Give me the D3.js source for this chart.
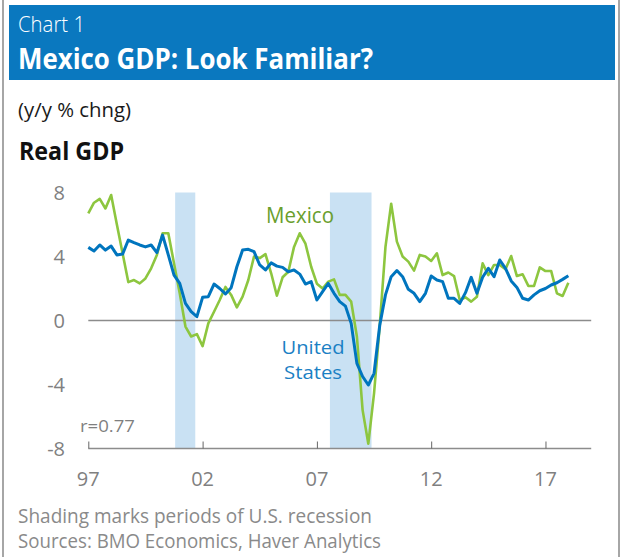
<!DOCTYPE html>
<html>
<head>
<meta charset="utf-8">
<script src="https://cdn.jsdelivr.net/npm/d3@7"></script>
<style>
  body { margin: 0; background: #fff; }
  text { font-family: "Open Sans", "Noto Sans", sans-serif; }
</style>
</head>
<body>
<svg id="viz"></svg>
<script>
var width = 623;
var height = 557;

// quarterly y/y % change, 1997Q1 .. 2018Q1
var startYear = 1997;
var mexico = [6.7, 7.36, 7.6, 7.0, 7.84, 6.0, 4.2, 2.4, 2.53, 2.32, 2.63, 3.26, 4.1, 5.45, 5.45, 3.57,
	1.7, -0.38, -1.0, -0.85, -1.6, -0.18, 0.55, 1.28, 2.1, 1.6, 0.82, 1.49, 2.53, 4.0, 3.9, 4.15,
	2.95, 1.55, 2.7, 3.05, 4.6, 5.45, 4.8, 3.36, 2.3, 2.0, 2.43, 2.57, 1.6, 1.6, 1.18, -1.0,
	-5.6, -7.7, -4.55, -0.3, 4.6, 7.3, 4.93, 4.0, 3.68, 3.12, 4.1, 4.0, 3.72, 4.2, 2.84, 3.0,
	2.78, 1.28, 1.45, 1.18, 1.49, 3.57, 2.84, 3.47, 3.47, 3.2, 4.03, 2.78, 2.89, 2.16, 2.16, 3.32,
	3.09, 3.09, 1.7, 1.53, 2.36];
var unitedStates = [4.57, 4.34, 4.72, 4.4, 4.65, 4.1, 4.15, 5.03, 4.87, 4.72, 4.6, 4.72, 4.24, 5.34, 4.1, 2.84,
	2.32, 1.07, 0.55, 0.24, 1.45, 1.49, 2.28, 2.0, 1.66, 2.05, 3.36, 4.4, 4.45, 4.3, 3.47, 3.16,
	3.6, 3.4, 3.32, 3.05, 3.16, 2.9, 2.28, 2.43, 1.28, 1.8, 2.32, 1.7, 1.18, 0.9, -0.18, -2.68,
	-3.5, -4.03, -3.3, -0.3, 1.6, 2.74, 3.12, 2.74, 1.95, 1.7, 1.18, 1.7, 2.78, 2.53, 2.43, 1.39,
	1.39, 1.07, 1.74, 2.7, 1.7, 2.7, 3.26, 2.74, 3.78, 3.26, 2.47, 2.07, 1.39, 1.28, 1.6, 1.86,
	2.0, 2.22, 2.36, 2.57, 2.8];

var recessionStart = [2000.8, 2007.57];
var recessionEnd = [2001.68, 2009.39];

var xTickYears = [1997, 2002, 2007, 2012, 2017];
var xTickLabels = ["97", "02", "07", "12", "17"];
var yTicks = [8, 4, 0, -4, -8];

var svg = d3.select("#viz").attr("width", width).attr("height", height);

// frame + header
svg.append("line").attr("x1", 3).attr("x2", 3).attr("y1", 0).attr("y2", height)
	.attr("stroke", "#a6a6a6").attr("stroke-width", 2);
svg.append("line").attr("x1", 619).attr("x2", 619).attr("y1", 0).attr("y2", height)
	.attr("stroke", "#a6a6a6").attr("stroke-width", 2);
svg.append("rect").attr("x", 9).attr("y", 5).attr("width", 606).attr("height", 75)
	.attr("fill", "#0a78bf");

function label(txt, x, y, size, weight, fill, len) {
	var t = svg.append("text")
		.attr("x", x).attr("y", y)
		.attr("font-size", size)
		.attr("font-weight", weight)
		.attr("fill", fill)
		.text(txt);
	if (len) t.attr("textLength", len).attr("lengthAdjust", "spacingAndGlyphs");
	return t;
}

label("Chart 1", 18, 32, 22, 300, "#fff", 67);
label("Mexico GDP: Look Familiar?", 18, 69, 29, 700, "#fff", 355);
label("(y/y % chng)", 18, 117, 20, 400, "#1a1a1a", 113);
label("Real GDP", 19, 160, 25, 700, "#111", 105);
label("Shading marks periods of U.S. recession", 18, 523, 20, 400, "#8a8a8a", 354);
label("Sources: BMO Economics, Haver Analytics", 18, 548, 20, 400, "#8a8a8a", 363);

// scales
var x = d3.scaleLinear().domain([1997, 2019]).range([88.3, 591.2]);
var y = d3.scaleLinear().domain([-8, 8]).range([448.5, 192.5]);

var chart = svg.append("g");

chart.selectAll("rect.recession")
	.data(recessionStart)
	.enter()
	.append("rect")
	.attr("class", "recession")
	.attr("x", function(d) { return x(d); })
	.attr("width", function(d, i) { return x(recessionEnd[i]) - x(d); })
	.attr("y", y(8))
	.attr("height", y(-8) - y(8))
	.attr("fill", "#c9e1f3");

// zero line
chart.append("line")
	.attr("x1", x(1997)).attr("x2", x(2019))
	.attr("y1", y(0)).attr("y2", y(0))
	.attr("stroke", "#8c8c8c").attr("stroke-width", 1.5);

// x axis with ticks pointing up
var xAxis = d3.axisTop(x)
	.tickValues(xTickYears)
	.tickSize(7)
	.tickFormat("");
var xg = chart.append("g")
	.attr("transform", "translate(0," + y(-8) + ")")
	.call(xAxis);
xg.select(".domain").attr("d", "M" + x(1997) + ",0H" + x(2019)).attr("stroke", "#8c8c8c").attr("stroke-width", 1.5);
xg.selectAll(".tick line").attr("stroke", "#666").attr("stroke-width", 1);

chart.selectAll("text.xlab")
	.data(xTickYears)
	.enter()
	.append("text")
	.attr("class", "xlab")
	.attr("x", function(d) { return x(d); })
	.attr("y", 486)
	.attr("text-anchor", "middle")
	.attr("font-size", 20)
	.attr("fill", "#808080")
	.text(function(d, i) { return xTickLabels[i]; });

chart.selectAll("text.ylab")
	.data(yTicks)
	.enter()
	.append("text")
	.attr("class", "ylab")
	.attr("x", 65)
	.attr("y", function(d) { return y(d) + 7; })
	.attr("text-anchor", "end")
	.attr("font-size", 20)
	.attr("fill", "#808080")
	.text(function(d) { return d; });

var line = d3.line()
	.x(function(d, i) { return x(startYear + i * 0.25); })
	.y(function(d) { return y(d); });

chart.append("path")
	.datum(mexico)
	.attr("d", line)
	.attr("fill", "none")
	.attr("stroke", "#8dc63f")
	.attr("stroke-width", 2.6)
	.attr("stroke-linejoin", "round");

chart.append("path")
	.datum(unitedStates)
	.attr("d", line)
	.attr("fill", "none")
	.attr("stroke", "#0075be")
	.attr("stroke-width", 3)
	.attr("stroke-linejoin", "round");

// series labels
label("Mexico", 266, 223, 22, 400, "#6a9e2d", 68);
label("United", 313, 353.5, 19, 400, "#1a80c4", 63).attr("text-anchor", "middle");
label("States", 313, 379, 19, 400, "#1a80c4", 58).attr("text-anchor", "middle");
label("r=0.77", 80, 432, 17, 400, "#7f7f7f", 55);
</script>
</body>
</html>
